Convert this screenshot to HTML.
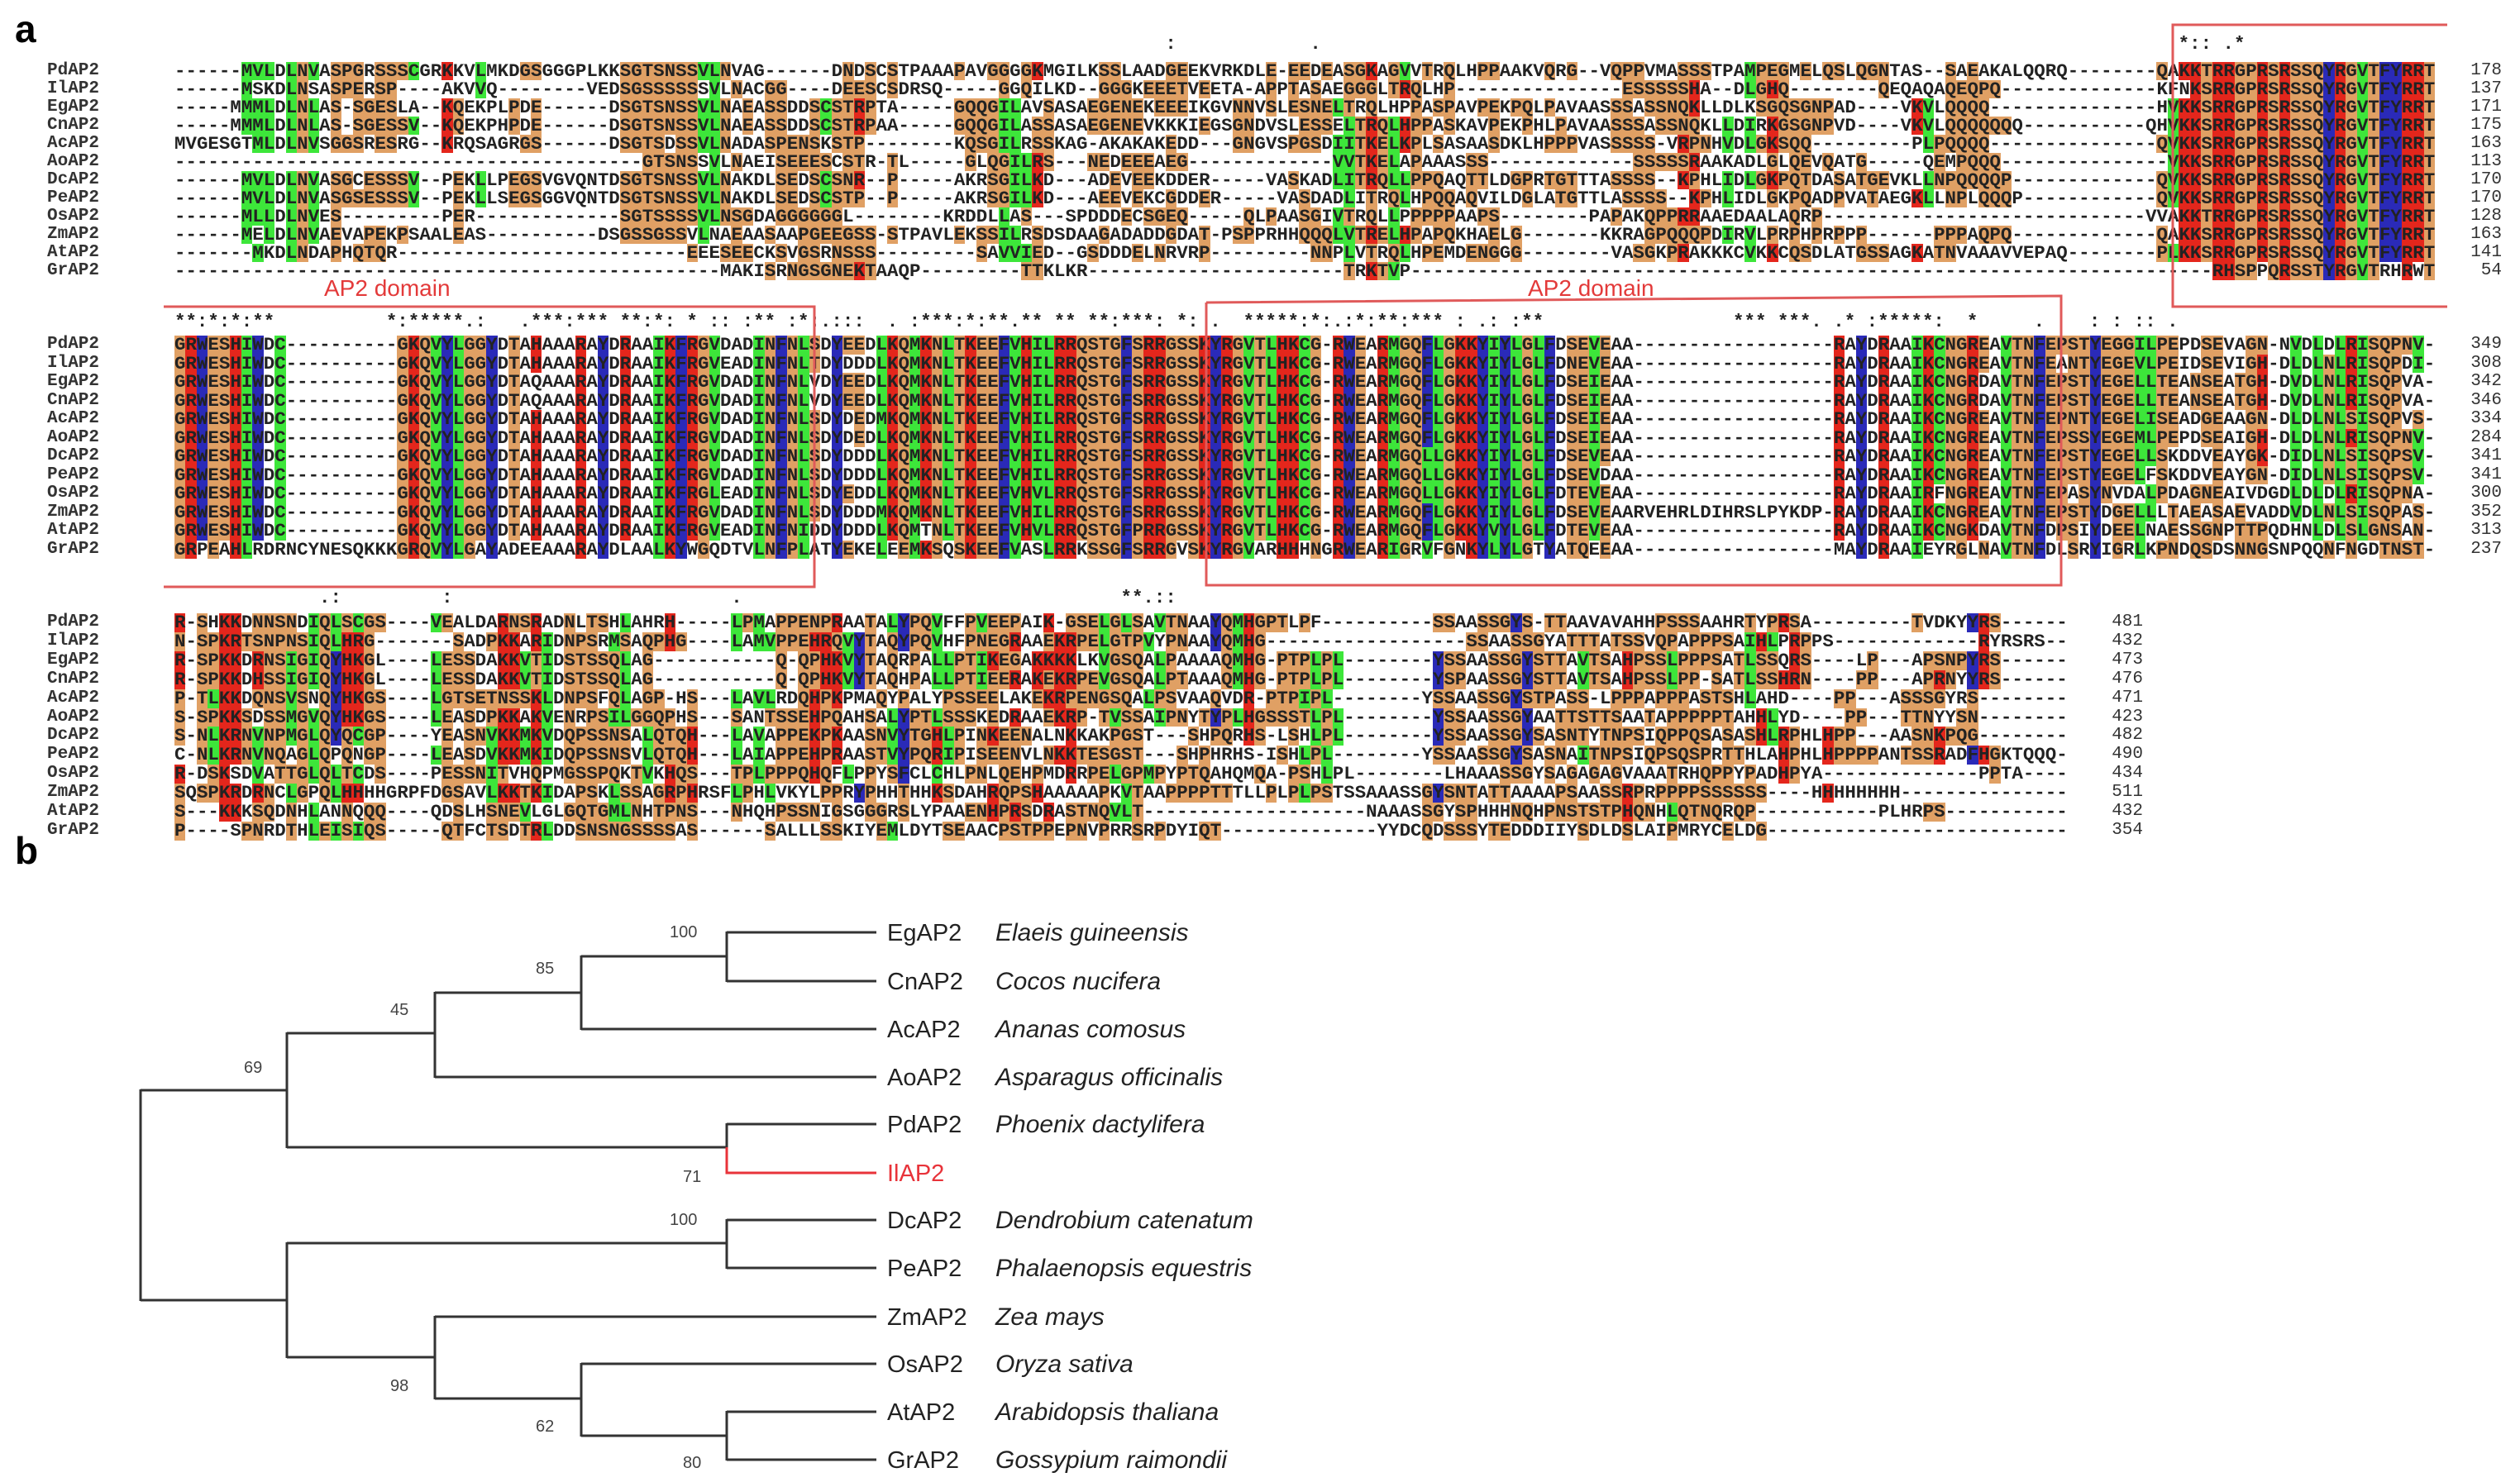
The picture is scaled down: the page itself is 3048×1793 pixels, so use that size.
<!DOCTYPE html>
<html><head><meta charset="utf-8">
<style>
html,body{margin:0;padding:0;background:#fff;}
body{width:3048px;height:1793px;position:relative;overflow:hidden;font-family:"Liberation Sans",sans-serif;}
.row{position:absolute;left:211px;white-space:pre;font-family:"Liberation Mono",monospace;font-size:22.45px;font-weight:bold;color:#222;}
.row span{display:inline-block;width:13.47px;text-align:center;}
.nm{position:absolute;left:57px;font-family:"Liberation Mono",monospace;font-size:21px;font-weight:bold;color:#333;white-space:pre;}
.num{position:absolute;font-family:"Liberation Mono",monospace;font-size:21px;color:#333;text-align:right;width:80px;}
.cons{position:absolute;left:211px;width:2740px;overflow:hidden;white-space:pre;font-family:"Liberation Mono",monospace;font-size:22.45px;font-weight:bold;color:#222;}
.r{background:#e4261c;} .b{background:#2a2ab8;} .g{background:#3de63a;} .o{background:#e0a064;}
.lab{position:absolute;color:#e33a3a;font-size:28px;font-family:"Liberation Sans",sans-serif;}
.big{position:absolute;font-weight:bold;font-size:46px;font-family:"Liberation Sans",sans-serif;}
</style></head><body>
<div class="big" style="left:18px;top:8px;">a</div>
<div class="big" style="left:18px;top:1002px;">b</div>
<div class="lab" style="left:392px;top:333px;">AP2 domain</div>
<div class="lab" style="left:1848px;top:333px;">AP2 domain</div>

<div id="aln"></div>

<div id="src" style="display:none">
<pre id="b1">
PdAP2|------MVLDLNVASPGRSSSCGRKKVLMKDGSGGGPLKKSGTSNSSVLNVAG-----|----DNDSCSTPAAAPAVGGGGKMGILKSSLAADGEEKVRKDLE-EEDEASGKAGVVTRQLHPPAAKVQRG--VQPPVMASSSTPAMPEGMELQSLQGNTAS--SAEAKALQQRQ------|QAKKTRRGPRSRSSQYRGVTFYRRT|178
IlAP2|------MSKDLNSASPERSP----AKVVQ--------VEDSGSSSSSSVLNACGG-----|----DEESCSDRSQ-----GGQILKD--GGGKEEETVEETA-APPTASAEGGGLTRQLHP---------------ESSSSSHA--DLGHQ--------QEQAQAQEQPQ-------|-KFNKSRRGPRSRSSQYRGVTFYRRT|137
EgAP2|-----MMMLDLNLAS-SGESLA--KQEKPLPDE------DSGTSNSSVLNAEASSNAPD|DDSCSTRPTA-----GQQGILAVSASAEGENEKEEEIKGVNNVSLESNELTRQLHPPASPAVPEKPQLPAVAASSSASSNQKLLDLKSGQSGNPAD----VKVLQQQQ-----|-HVKKSRRGPRSRSSQYRGVTFYRRT|171
CnAP2|-----MMMLDLNLAS-SGESSV--KQEKPHPDE------DSGTSNSSVLNAEASSNAPD|DDSCSTRPAA-----GQQGILASSASAEGENEVKKKIEGSGNDVSLESSELTRQLHPPASKAVPEKPHLPAVAASSSASSNQKLLDIRKGSGNPVD----VKVLQQQQQQQ--|QHVKKSRRGPRSRSSQYRGVTFYRRT|175
AcAP2|MVGESGTMLDLNVSGGSRESRG--KRQSAGRGS------DSGTSDSSVLNADASPNVAD|ENSKSTP--------KQSGILRSSKAG-AKAKAKEDD---GNGVSPGSDIITKELKPLSASAASDKLHPPPVASSSSS-VRPNHVDLGKSQQ---------PLPQQQQ------|-QVKKSRRGPRSRSSQYRGVTFYRRT|163
AoAP2|------------------------------------------GTSNSSVLNAEISSPAGE|EEESCSTR-TL-----GLQGILRS---NEDEEEAEG-------------VVTKELAPAAASSS-------------SSSSSRAAKADLGLQEVQATG-----QEMPQQQ------|--VKKSRRGPRSRSSQYRGVTFYRRT|113
DcAP2|------MVLDLNVASGCESSSV--PEKLLPEGSVGVQNTDSGTSNSSVLNAKDLSNIGD|EDSCSNR--P-----AKRSGILKD---ADEVEEKDDER-----VASKADLITRQLLPPQAQTTLDGPRTGTTTASSSS--KPHLIDLGKPQTDASATGEVKLLNPQQQQP----|-QVKKSRRGPRSRSSQYRGVTFYRRT|170
PeAP2|------MVLDLNVASGSESSSV--PEKLLSEGSGGVQNTDSGTSNSSVLNAKDLSNIGD|EDSCSTP--P-----AKRSGILKD---AEEVEKCGDDER-----VASDADLITRQLHPQQAQVILDGLATGTTLASSSS--KPHLIDLGKPQADPVATAEGKLLNPLQQQP----|-QVKKSRRGPRSRSSQYRGVTFYRRT|170
OsAP2|------MLLDLNVES---------PER-------------SGTSSSSVLNSGDAGGGGGG|GGGGGL--------KRDDLLAS---SPDDDECSGEQ-----QLPAASGIVTRQLLPPPPPAAPS--------PAPAKQPPRRAAEDAALAQRP---------------------|VVAKKTRRGPRSRSSQYRGVTFYRRT|128
ZmAP2|------MELDLNVAEVAPEKPSAALEAS----------DSGSSGSSVLNAEAASAGGGGP|APGEEGSS-STPAVLEKSSILRSDSDAAGADADDGDAT-PSPPRHHQQQLVTRELHPAPQKHAELG-------KKRAGPQQQPDIRVLPRPHPRPPP------PPPAQPQ-------|-QAKKSRRGPRSRSSQYRGVTFYRRT|163
AtAP2|-------MKDLNDAPHQTQR--------------------------EEESEECKSSPSKR|VGSRNSSS---------SAVVIED--GSDDDELNRVRP---------NNPLVTRQLHPEMDENGGG--------VASGKPRAKKKCVKKCQSDLATGSSAGKATNVAAAVVEPAQ|PLKKSRRGPRSRSSQYRGVTFYRRT|141
GrAP2|-------------------------------------------------MAKISRQNQK|NGSGNEKTAAQP---------TTKLKR-----------------------TRKTVP-----------------------------------------------------------|-RHSPPQRSSTYRGVTRHRWT|54
</pre>
<pre id="b2">
PdAP2|GRWESHIWDC----------|GKQVYLGGYDTAHAAARAYDRAAIKFRGVDADINFNLSDYEEDLKQMKNLTKEEFVHILRRQSTGFSRGSS|RGSSKYRGVTLHKCG-RWEARMGQFLGKKYIYLGLFDSEVEAA|RAYDRAAIKCNGREAVTNFEPSTYEGGILPEPDSEVAGN-NVDLDLRISQPNV|349
IlAP2|GRWESHIWDC----------|GKQVYLGGYDTAHAAARAYDRAAIKFRGVEADINFNLTDYDDDLKQMKNLTKEEFVHILRRQSTGFSRGSS|RGSSKYRGVTLHKCG-RWEARMGQFLGKKYIYLGLFDNEVEAA|RAYDRAAIKCNGREAVTNFEANTYEGEVLPEIDSEVIGH-DLDLNLRISQPDI|308
EgAP2|GRWESHIWDC----------|GKQVYLGGYDTAQAAARAYDRAAIKFRGVDADINFNLVDYEEDLKQMKNLTKEEFVHILRRQSTGFSRGSS|RGSSKYRGVTLHKCG-RWEARMGQFLGKKYIYLGLFDSEIEAA|RAYDRAAIKCNGRDAVTNFEPSTYEGELLTEANSEATGH-DVDLNLRISQPVA|342
CnAP2|GRWESHIWDC----------|GKQVYLGGYDTAQAAARAYDRAAIKFRGVDADINFNLVDYEEDLKQMKNLTKEEFVHILRRQSTGFSRGSS|RGSSKYRGVTLHKCG-RWEARMGQFLGKKYIYLGLFDSEIEAA|RAYDRAAIKCNGRDAVTNFEPSTYEGELLTEANSEATGH-DVDLNLRISQPVA|346
AcAP2|GRWESHIWDC----------|GKQVYLGGYDTAHAAARAYDRAAIKFRGVDADINFNLSDYDEDMKQMKNLTKEEFVHILRRQSTGFSRGSS|RGSSKYRGVTLHKCG-RWEARMGQFLGKKYIYLGLFDSEIEAA|RAYDRAAIKCNGREAVTNFEPNTYEGELISEADGEAAGN-DLDLNLSISQPVS|334
AoAP2|GRWESHIWDC----------|GKQVYLGGYDTAHAAARAYDRAAIKFRGVDADINFNLSDYDEDLKQMKNLTKEEFVHILRRQSTGFSRGSS|RGSSKYRGVTLHKCG-RWEARMGQFLGKKYIYLGLFDSEIEAA|RAYDRAAIKCNGREAVTNFEPSSYEGEMLPEPDSEAIGH-DLDLNLRISQPNV|284
DcAP2|GRWESHIWDC----------|GKQVYLGGYDTAHAAARAYDRAAIKFRGVDADINFNLSDYDDDLKQMKNLTKEEFVHILRRQSTGFSRGSS|RGSSKYRGVTLHKCG-RWEARMGQLLGKKYIYLGLFDSEVEAA|RAYDRAAIKCNGREAVTNFEPSTYEGELLSKDDVEAYGK-DIDLNLSISQPSV|341
PeAP2|GRWESHIWDC----------|GKQVYLGGYDTAHAAARAYDRAAIKFRGVDADINFNLSDYDDDLKQMKNLTKEEFVHILRRQSTGFSRGSS|RGSSKYRGVTLHKCG-RWEARMGQLLGKKYIYLGLFDSEVDAA|RAYDRAAIKCNGREAVTNFEPSTYEGELFSKDDVEAYGN-DIDLNLSISQPSV|341
OsAP2|GRWESHIWDC----------|GKQVYLGGYDTAHAAARAYDRAAIKFRGLEADINFNLSDYEDDLKQMKNLTKEEFVHVLRRQSTGFSRGSS|RGSSKYRGVTLHKCG-RWEARMGQLLGKKYIYLGLFDTEVEAA|RAYDRAAIRFNGREAVTNFEPASYNVDALPDAGNEAIVDGDLDLDLRISQPNA|300
ZmAP2|GRWESHIWDC----------|GKQVYLGGYDTAHAAARAYDRAAIKFRGVDADINFNLSDYDDDMKQMKNLTKEEFVHILRRQSTGFSRGSS|RGSSKYRGVTLHKCG-RWEARMGQFLGKKYIYLGLFDSEVEAARVEHRLDIHRSLPYKDP|RAYDRAAIKCNGREAVTNFEPSTYDGELLLTAEASAEVADDVDLNLSISQPAS|352
AtAP2|GRWESHIWDC----------|GKQVYLGGYDTAHAAARAYDRAAIKFRGVEADINFNIDDYDDDLKQMTNLTKEEFVHVLRRQSTGFPRGSS|RGSSKYRGVTLHKCG-RWEARMGQFLGKKYVYLGLFDTEVEAA|RAYDRAAIKCNGKDAVTNFDPSIYDEELNAESSGNPTTPQDHNLDLSLGNSAN|313
GrAP2|GRPEAHLRDRNCYNESQKKK|GRQVYLGAYADEEAAARAYDLAALKYWGQDTVLNFPLATYEKELEEMKSQSKEEFVASLRRKSSGFSRGVS|RGVSKYRGVARHHHNGRWEARIGRVFGNKYLYLGTYATQEEAA|MAYDRAAIEYRGLNAVTNFDLSRYIGRLKPNDQSDSNNGSNPQQNFNGDTNST|237
</pre>
<pre id="b3">
PdAP2|R-SHKKDNNSNDIQLSCGS----VEALDARNSRADNLTSHLAHRH-----LPMAPE|PENPRAATALYPQVFFPVEEPAIK-GSELGLSAVTNAAYQMHGPTLPF----------SSAASSGYS-TTAAVAVAHHPSSSAAHRTYPRSA---------TVDKYYRS-----|481
IlAP2|N-SPKRTSNPNSIQLHRG-------SADPKKARIDNPSRMSAQPHG----LAMVPE|PEHRQVYTAQYPQVHFPNEGRAAEKRPELGTPVYPNAAYQMHG------------------SSAASSGYATTTATSSVQPAPPPSAIHLPRPPS-------------RYRSRS-----|432
EgAP2|R-SPKKDRNSIGIQYHKGL----LESSDAKKVTIDSTSSQLAG-----------QP|-QPHKVYTAQRPALLPTIKEGAKKKKLKVGSQALPAAAAQMHG-PTPLPL--------YSSAASSGYSTTAVTSAHPSSLPPPSATLSSQRS----LP---APSNPYRS-----|473
CnAP2|R-SPKKDHSSIGIQYHKGL----LESSDAKKVTIDSTSSQLAG-----------QP|-QPHKVYTAQHPALLPTIEERAKEKRPEVGSQALPTAAAQMHG-PTPLPL--------YSPAASSGYSTTAVTSAHPSSLPP-SATLSSHRN----PP---APRNYYRS-----|476
AcAP2|P-TLKKDQNSVSNQYHKGS----LGTSETNSSKLDNPSFQLAGP-HS---LAVLRD|DQHPKPMAQYPALYPSSEELAKEKRPENGSQALPSVAAQVDR-PTPIPL--------YSSAASSGYSTPASS-LPPPAPPPASTSHLAHD----PP---ASSSGYRS-----|471
AoAP2|S-SPKKSDSSMGVQYHKGS----LEASDPKKAKVENRPSILGGQPHS---SANTSE|SEHPQAHSALYPTLSSSKEDRAAEKRP-TVSSAIPNYTYPLHGSSSTLPL--------YSSAASSGYAATTSTTSAATAPPPPPTAHHLYD----PP---TTNYYSN-----|423
DcAP2|S-NLKRNVNPMGLQYQCGP----YEASNVKKMKVDQPSSNSALQTQH---LAVAPE|PEKPKAASNVYTGHLPINKEENALNKKAKPGST---SHPQRHS-LSHLPL--------YSSAASSGYSASNTYTNPSIQPPQSASASHLRPHLHPP---AASNKPQG-----|482
PeAP2|C-NLKRNVNQAGLQPQNGP----LEASDVKKMKIDQPSSNSVLQTQH---LAIAPE|PEHPRAASTVYPQRIPISEENVLNKKTESGST---SHPHRHS-ISHLPL--------YSSAASSGYSASNAITNPSIQPSQSPRTTHLAHPHLHPPPPANTSSRADFHGKTQQQ|490
OsAP2|R-DSKSDVATTGLQLTCDS----PESSNITVHQPMGSSPQKTVKHQS---TPLPPQ|PQHQFLPPYSFCLCHLPNLQEHPMDRRPELGPMPYPTQAHQMQA-PSHLPL--------LHAAASSGYSAGAGAGVAAATRHQPPYPADHPYA--------------PPTA-----|434
ZmAP2|SQSPKRDRNCLGPQLHHHHGRPFDGSAVLKKTKIDAPSKLSSAGRPHRSFLPHLVAA|KYLPPRYPHHTHHKSDAHRQPSHAAAAAPKVTAAPPPPTTTLLPLPLPSTSSAAASSGYSNTATTAAAAPSAASSRPRPPPPSSSSSS----HHHHHHHH-----|511
AtAP2|S---KKKSQDNHLANNQQQ----QDSLHSNEVLGLGQTGMLNHTPNS---NHQHPGS|SSNIGSGGGRSLYPAAENHPRSDRASTNQVLT--------------------NAAASSGYSPHHHNQHPNSTSTPHQNHLQTNQRQP-----------PLHRPS-----|432
GrAP2|P----SPNRDTHLEISIQS-----QTFCTSDTRLDDSNSNGSSSSAS------SALG|LLLSSKIYEMLDYTSEAACPSTPPEPNVPRRSRPDYIQT--------------YYDCQDSSSYTEDDDIIYSDLDSLAIPMRYCELDG-----------------------|354
</pre>
</div>

<div class="cons" style="top:40px;">                                                                                         :            .                                                                             *:: .*                                                       *:.* .*** ***** :* *</div>
<div class="cons" style="top:376px;">**:*:*:**          *:*****.:   .***:*** **:*: * :: :** :*:.:::  . :***:*:**.** ** **:***: *: .  *****:*:.:*:**:*** : .: :**                 *** ***. .* :*****:  *     .    : : :: .</div>
<div class="cons" style="top:710px;">             .:         :                         .                                  **.::</div>

<svg width="3048" height="1793" style="position:absolute;left:0;top:0;" xmlns="http://www.w3.org/2000/svg">
<g stroke="#e05a5a" stroke-width="3" fill="none">
<polyline points="2960,30 2628,30 2628,371 2960,371"/>
<polyline points="198,371 985,371 985,710 198,710"/>
<polyline points="1459,366 2493,358 2493,708 1459,708 1459,366"/>
</g>
<g stroke="#333" stroke-width="3" fill="none">
<path d="M879,1128H1060M879,1187H1060M879,1127V1188M703,1157H879M703,1245H1060M703,1156V1246M526,1201H703M526,1303H1060M526,1200V1304M347,1250H526M347,1249V1389M347,1388H879M879,1360H1060M879,1359V1390"/>
<path d="M170,1319H347M170,1573H347M170,1318V1574"/>
<path d="M347,1504H879M879,1476H1060M879,1534H1060M879,1475V1535M347,1503V1643M347,1642H526M526,1593H1060M526,1592V1693M526,1692H703M703,1650H1060M703,1649V1738M703,1737H879M879,1708H1060M879,1766H1060M879,1707V1767"/>
</g>
<path d="M879,1388V1419H1060" stroke="#e8333a" stroke-width="3" fill="none"/>
<g font-family="Liberation Sans, sans-serif" font-size="20" fill="#444">
<text x="810" y="1134">100</text><text x="648" y="1178">85</text><text x="472" y="1228">45</text><text x="295" y="1298">69</text>
<text x="826" y="1430">71</text><text x="810" y="1482">100</text><text x="472" y="1683">98</text><text x="648" y="1732">62</text><text x="826" y="1776">80</text>
</g>
<g font-family="Liberation Sans, sans-serif" font-size="29" fill="#222">
<text x="1073" y="1138">EgAP2</text><text x="1073" y="1197">CnAP2</text><text x="1073" y="1255">AcAP2</text><text x="1073" y="1313">AoAP2</text>
<text x="1073" y="1370">PdAP2</text><text x="1073" y="1429" fill="#e8333a">IlAP2</text><text x="1073" y="1486">DcAP2</text><text x="1073" y="1544">PeAP2</text>
<text x="1073" y="1603">ZmAP2</text><text x="1073" y="1660">OsAP2</text><text x="1073" y="1718">AtAP2</text><text x="1073" y="1776">GrAP2</text>
</g>
<g font-family="Liberation Sans, sans-serif" font-size="30" font-style="italic" fill="#222">
<text x="1204" y="1138">Elaeis guineensis</text><text x="1204" y="1197">Cocos nucifera</text><text x="1204" y="1255">Ananas comosus</text><text x="1204" y="1313">Asparagus officinalis</text>
<text x="1204" y="1370">Phoenix dactylifera</text><text x="1204" y="1486">Dendrobium catenatum</text><text x="1204" y="1544">Phalaenopsis equestris</text>
<text x="1204" y="1603">Zea mays</text><text x="1204" y="1660">Oryza sativa</text><text x="1204" y="1718">Arabidopsis thaliana</text><text x="1204" y="1776">Gossypium raimondii</text>
</g>
</svg>

<script>
(function(){
var cls={K:'r',R:'r',H:'r',F:'b',W:'b',Y:'b',I:'g',L:'g',M:'g',V:'g',C:'g',S:'o',T:'o',P:'o',G:'o',N:'o',Q:'o',E:'o'};
var blocks=[
 {id:'b1',N:203,starts:[0,55,-1],top:75,sp:22,numR:3026,th:4},
 {id:'b2',N:203,starts:[0,20,88,149],top:406,sp:22.5,numR:3026,th:4},
 {id:'b3',N:170,starts:[0,55],top:742,sp:22.9,numR:2592,th:3}
];
var out=document.getElementById('aln');
blocks.forEach(function(B){
 var lines=document.getElementById(B.id).textContent.trim().split('\n');
 var rows=[];
 lines.forEach(function(l){
  var p=l.split('|');var name=p[0];var num=p[p.length-1];var segs=p.slice(1,p.length-1);
  var arr=[];for(var i=0;i<B.N;i++)arr.push('-');
  segs.forEach(function(s,k){
   var st=B.starts[k];
   if(st<0){st=B.N-s.length;}
   var nx=(k+1<segs.length)?B.starts[k+1]:B.N; if(nx<0)nx=B.N-segs[k+1].length;
   for(var j=0;j<s.length;j++){var c=st+j;if(c>=0&&c<B.N&&c<nx)arr[c]=s[j];}
  });
  rows.push({name:name,num:num,arr:arr});
 });
 var colCount=[];
 for(var c=0;c<B.N;c++){var cnt={};rows.forEach(function(r){var k=cls[r.arr[c]];if(k)cnt[k]=(cnt[k]||0)+1;});colCount.push(cnt);}
 rows.forEach(function(r,i){
  var y=B.top+i*B.sp;
  var d=document.createElement('div');d.className='row';d.style.top=y+'px';d.style.lineHeight=B.sp+'px';d.style.height=B.sp+'px';
  var h='';
  for(var c=0;c<B.N;c++){var ch=r.arr[c];var k=cls[ch];
   if(k&&colCount[c][k]>=B.th)h+='<span class="'+k+'">'+ch+'</span>';else h+='<span>'+ch+'</span>';}
  d.innerHTML=h;out.appendChild(d);
  var n=document.createElement('div');n.className='nm';n.style.top=y+'px';n.style.lineHeight=B.sp+'px';n.textContent=r.name;out.appendChild(n);
  var m=document.createElement('div');m.className='num';m.style.top=y+'px';m.style.lineHeight=B.sp+'px';m.style.left=(B.numR-80)+'px';m.textContent=r.num;out.appendChild(m);
 });
});
})();
</script>
</body></html>
